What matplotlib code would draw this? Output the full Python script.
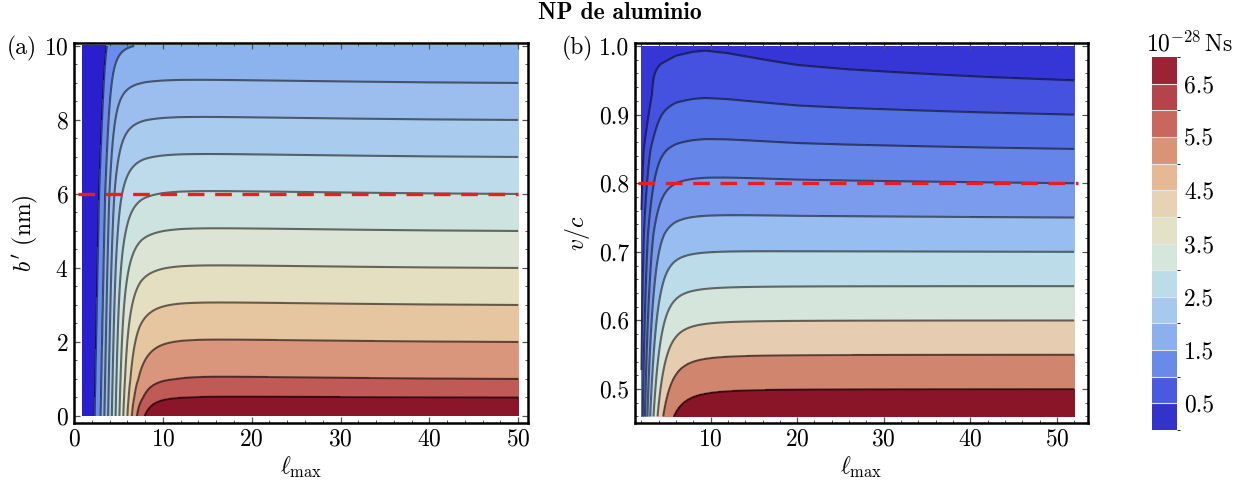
import numpy as np
import matplotlib
matplotlib.use("Agg")
import matplotlib.pyplot as plt
from matplotlib.colors import ListedColormap, BoundaryNorm
from matplotlib.cm import ScalarMappable
from matplotlib.ticker import MultipleLocator, FormatStrFormatter

plt.rcParams["font.family"] = "serif"
plt.rcParams["font.serif"] = ["cmr10", "DejaVu Serif"]
plt.rcParams["mathtext.fontset"] = "cm"
plt.rcParams["axes.formatter.use_mathtext"] = True

# ---------------- panel (a): b' (nm) vs l_max ----------------
a_levels = [1.0, 1.5, 2.0, 2.5, 3.0, 3.5, 4.0, 4.5, 5.0, 5.5, 6.0, 6.5]
a_colors = ["#2a1fcc", "#6b8cec", "#8cb3ee", "#9bbeef", "#a9cbee", "#bddbea",
            "#cde3e0", "#dce4d6", "#e4dfc0", "#e6c6a0", "#d9967c", "#bf5a57", "#8b1629"]
# plateau value read at l_max = 50
a_b_knots = [0, 0.5, 1, 2, 3, 4, 5, 6, 7, 8, 9, 10]
a_plateau = [7.3, 6.5, 6.0, 5.5, 5.0, 4.5, 4.0, 3.5, 3.0, 2.5, 2.0, 1.52]
# rising part (levels crossing the bottom edge)
a_rise_l = [1.0, 2.33, 3.0, 7.2, 20, 60]
a_rise_v = [0.4, 1.0, 1.5, 6.5, 19.5, 62]
a_shift_b = [0, 6, 10]
a_shift = [0, 0.5, 1.1]
a_knee_b = [0, 5, 10]
a_knee_p = [6, 3.8, 2.4]
# small overshoot after the knee
a_bump_l = [1, 4, 6, 8, 10, 12, 15, 20, 25, 32, 40, 50]
a_bump = [0, 0.3, 0.6, 0.85, 0.97, 1.0, 0.93, 0.75, 0.58, 0.36, 0.16, 0]
a_over_b = [0, 1, 6, 9, 10]
a_over = [0.02, 0.04, 0.05, 0.05, 0.03]

# ---------------- panel (b): v/c vs l_max ----------------
b_levels = [1, 2, 3, 4, 5, 6, 7, 8, 9, 10]
b_colors = ["#3536d5", "#4452df", "#5470e5", "#6685e8", "#7b9ced", "#98bdf0",
            "#bcdcea", "#d5e5dc", "#e6cdb2", "#d0866e", "#8a1528"]
b_v_knots = [0.46, 0.50, 0.55, 0.60, 0.65, 0.70, 0.75, 0.80, 0.85, 0.90, 0.95, 1.0]
b_plateau = [10.8, 10, 9, 8, 7, 6, 5, 4, 3, 2, 1, 0.1]
b_rise_v = [0.46, 0.725, 0.85, 0.93, 1.0]
b_rise_A = [9.0, 5.5, 3.4, 2.4, 2.1]
b_rise_l0 = [1.55, 1.6, 1.71, 2.2, 2.4]
b_knee_v = [0.46, 0.8, 1.0]
b_knee_p = [6, 5, 3.5]
b_bump_l = [2, 3, 4.2, 6, 8, 9.4, 12, 15, 20, 26, 34, 42, 52]
b_bump = [0.1, 0.28, 0.62, 0.86, 0.97, 1.0, 0.93, 0.8, 0.58, 0.43, 0.28, 0.14, 0.0]
b_over_v = [0.46, 0.65, 0.70, 0.755, 0.81, 0.866, 0.925, 0.988, 1.0]
b_over = [0, 0, 0.04, 0.1, 0.2, 0.32, 0.5, 0.76, 0.8]

# colorbar legend (10^-28 Ns)
cb_bounds = [0, 0.5, 1, 1.5, 2, 2.5, 3, 3.5, 4, 4.5, 5, 5.5, 6, 6.5, 7]
cb_colors = ["#3333cc", "#4a5ae0", "#6a8aea", "#8cb0ee", "#a7c8ef", "#bcdde8", "#d5e6dc",
             "#e3e2c8", "#e8d2b4", "#e6b995", "#d99377", "#c9675e", "#b5434b", "#9b2335"]
cb_ticks = [0.5, 1.5, 2.5, 3.5, 4.5, 5.5, 6.5]


def smin(f, P, p):
    f = np.clip(f, 1e-3, None)
    return (f**-p + P**-p) ** (-1.0 / p)


# field (a)
la = np.linspace(1, 50, 700)
ba = np.linspace(0, 10, 500)
L, B = np.meshgrid(la, ba)
Pa = np.interp(B, a_b_knots, a_plateau)
fa = np.interp(L - np.interp(B, a_shift_b, a_shift), a_rise_l, a_rise_v)
Sa = smin(fa, Pa, np.interp(B, a_knee_b, a_knee_p))
Va = Sa + np.interp(B, a_over_b, a_over) * np.interp(L, a_bump_l, a_bump) * Sa / Pa

# field (b)
lb = np.linspace(2, 52, 700)
vb = np.linspace(0.46, 1.0, 500)
L2, V2 = np.meshgrid(lb, vb)
Pb = np.interp(V2, b_v_knots, b_plateau)
fb = np.interp(V2, b_rise_v, b_rise_A) * np.log(L2 / np.interp(V2, b_rise_v, b_rise_l0))
Sb = smin(fb, Pb, np.interp(V2, b_knee_v, b_knee_p))
Vb = Sb + np.interp(V2, b_over_v, b_over) * np.interp(L2, b_bump_l, b_bump) * Sb / Pb

fig = plt.figure(figsize=(12.39, 4.97), dpi=100)
ax1 = fig.add_axes([74 / 1239, 1 - 423 / 497, 454 / 1239, 380 / 497])
ax2 = fig.add_axes([635 / 1239, 1 - 423 / 497, 453 / 1239, 380 / 497])
cax = fig.add_axes([1152 / 1239, 1 - 430 / 497, 25 / 1239, 373 / 497])

FS = 17
line_kw = dict(colors="k", linewidths=1.5, alpha=0.55)

ax1.contourf(L, B, Va, levels=[-10] + a_levels + [100], colors=a_colors)
ax1.contour(L, B, Va, levels=a_levels, **line_kw)
ax1.plot([0.45, 50], [6, 6], color="#ee1c1c", lw=2.4, dashes=(5, 3.2))
ax1.set_xlim(0, 51.1)
ax1.set_ylim(-0.19, 10.08)
ax1.xaxis.set_major_locator(MultipleLocator(10))
ax1.xaxis.set_minor_locator(MultipleLocator(2))
ax1.yaxis.set_major_locator(MultipleLocator(2))
ax1.yaxis.set_minor_locator(MultipleLocator(0.5))
ax1.set_xlabel(r"$\ell_{\max}$", fontsize=FS, labelpad=3)
ax1.set_ylabel(r"$b'$ (nm)", fontsize=FS, labelpad=3)

ax2.contourf(L2, V2, Vb, levels=[-10] + b_levels + [100], colors=b_colors)
ax2.contour(L2, V2, Vb, levels=b_levels, **line_kw)
ax2.plot([1.6, 52.4], [0.8, 0.8], color="#ee1c1c", lw=2.4, dashes=(5, 3.2))
ax2.set_xlim(1.27, 53.6)
ax2.set_ylim(0.4504, 1.0044)
ax2.xaxis.set_major_locator(MultipleLocator(10))
ax2.xaxis.set_minor_locator(MultipleLocator(2))
ax2.yaxis.set_major_locator(MultipleLocator(0.1))
ax2.yaxis.set_minor_locator(MultipleLocator(0.02))
ax2.yaxis.set_major_formatter(FormatStrFormatter("%.1f"))
ax2.set_xlabel(r"$\ell_{\max}$", fontsize=FS, labelpad=3)
ax2.set_ylabel(r"$v/c$", fontsize=FS, labelpad=5)

for ax in (ax1, ax2):
    for sp in ax.spines.values():
        sp.set_linewidth(1.8)
        sp.set_color("black")
    ax.tick_params(which="both", direction="in", top=True, right=True,
                   color="#555555", labelsize=FS, pad=4)
    ax.tick_params(which="major", length=4, width=0.9)
    ax.tick_params(which="minor", length=2.5, width=0.7)

fig.text(7 / 1239, 1 - 48 / 497, "(a)", fontsize=FS, va="center", ha="left")
fig.text(562 / 1239, 1 - 48 / 497, "(b)", fontsize=FS, va="center", ha="left")
fig.text(0.5, 1 - 13 / 497, "NP de aluminio", fontfamily="cmb10",
         fontsize=17, ha="center", va="center")

cmap = ListedColormap(cb_colors)
norm = BoundaryNorm(cb_bounds, cmap.N)
cb = fig.colorbar(ScalarMappable(norm=norm, cmap=cmap), cax=cax, ticks=cb_ticks)
cb.outline.set_visible(False)
for yb in cb_bounds[1:-1]:
    cax.axhline(yb, color="#e6e6e6", lw=0.8)
cb.ax.tick_params(length=0, labelsize=FS, pad=5)
cb.ax.yaxis.set_major_formatter(FormatStrFormatter("%.1f"))
fig.text(1190 / 1239, 1 - 44 / 497, r"$10^{-28}\,$Ns", fontsize=FS, ha="center", va="center")

fig.savefig("out.png", dpi=100)
